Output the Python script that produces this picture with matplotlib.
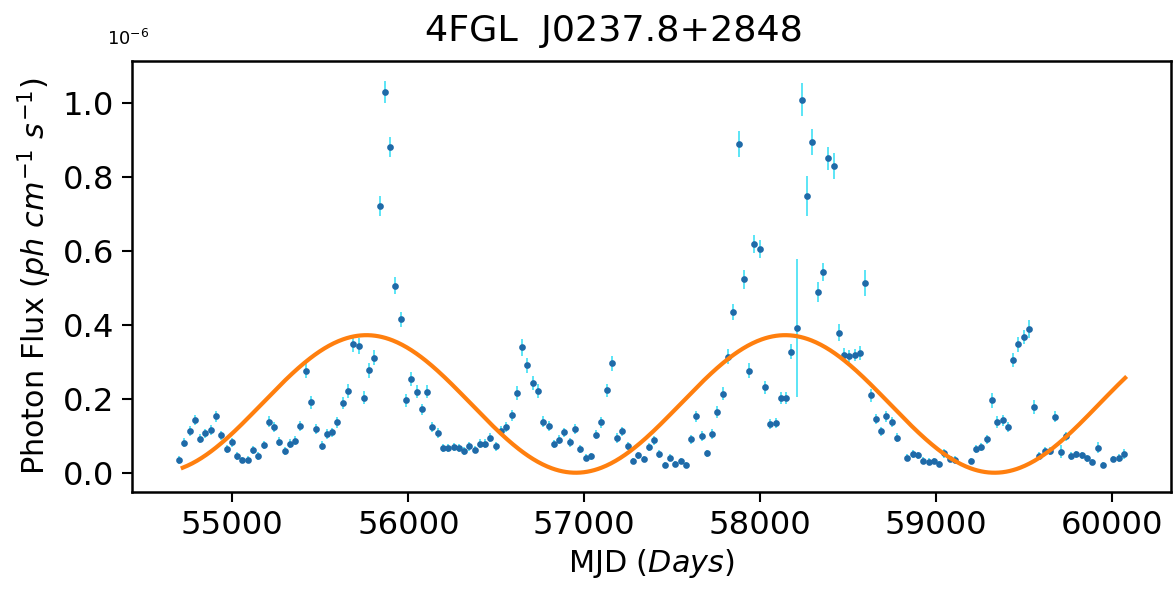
import numpy as np
import matplotlib.pyplot as plt

# 30-day binned light curve (flux in units of 1e-6 ph cm^-1 s^-1)
t_start = 54697
bin_days = 30
flux = [0.034, 0.081, 0.113, 0.142, 0.092, 0.107, 0.115, 0.153, 0.101, 0.063,
        0.082, 0.045, 0.034, 0.035, 0.061, 0.045, 0.075, 0.138, 0.124, 0.084,
        0.059, 0.079, 0.086, 0.127, 0.276, 0.190, 0.119, 0.073, 0.105, 0.109,
        0.137, 0.189, 0.221, 0.349, 0.343, 0.203, 0.277, 0.311, 0.721, 1.029,
        0.882, 0.505, 0.415, 0.196, 0.254, 0.219, 0.171, 0.219, 0.124, 0.108,
        0.068, 0.068, 0.070, 0.066, 0.059, 0.071, 0.062, 0.079, 0.079, 0.095,
        0.071, 0.114, 0.123, 0.155, 0.216, 0.339, 0.291, 0.242, 0.221, 0.138,
        0.127, 0.078, 0.089, 0.109, 0.082, 0.118, 0.063, 0.041, 0.044, 0.103,
        0.137, 0.223, 0.296, 0.094, 0.112, 0.073, 0.032, 0.047, 0.037, 0.069,
        0.088, 0.051, 0.021, 0.041, 0.023, 0.032, 0.020, 0.091, 0.153, 0.100,
        0.052, 0.104, 0.164, 0.214, 0.314, 0.435, 0.890, 0.523, 0.276, 0.618,
        0.605, 0.231, 0.132, 0.134, 0.203, 0.203, 0.327, 0.392, 1.009, 0.748,
        0.895, 0.489, 0.543, 0.850, 0.830, 0.379, 0.318, 0.316, 0.318, 0.324,
        0.514, 0.209, 0.145, 0.112, 0.153, 0.138, 0.095, np.nan, 0.041, 0.050,
        0.047, 0.033, 0.030, 0.032, 0.023, 0.052, 0.037, 0.035, np.nan, np.nan,
        0.032, 0.063, 0.069, 0.090, 0.196, 0.137, 0.142, 0.124, 0.305, 0.347,
        0.367, 0.388, 0.178, 0.045, 0.059, 0.058, 0.152, 0.057, 0.098, 0.045,
        0.050, 0.047, 0.039, 0.029, 0.068, 0.020, np.nan, 0.037, 0.040, 0.051]
flux_err = [0.010, 0.012, 0.013, 0.014, 0.012, 0.012, 0.013, 0.015, 0.012, 0.011,
            0.012, 0.010, 0.009, 0.009, 0.011, 0.010, 0.012, 0.015, 0.014, 0.012,
            0.011, 0.012, 0.012, 0.014, 0.020, 0.017, 0.014, 0.012, 0.013, 0.013,
            0.015, 0.017, 0.018, 0.022, 0.022, 0.017, 0.020, 0.021, 0.028, 0.030,
            0.027, 0.023, 0.021, 0.017, 0.019, 0.018, 0.016, 0.018, 0.014, 0.013,
            0.011, 0.011, 0.011, 0.011, 0.010, 0.011, 0.010, 0.012, 0.012, 0.013,
            0.011, 0.013, 0.014, 0.015, 0.018, 0.022, 0.020, 0.019, 0.018, 0.015,
            0.014, 0.011, 0.012, 0.013, 0.012, 0.013, 0.011, 0.009, 0.009, 0.013,
            0.015, 0.018, 0.020, 0.013, 0.013, 0.011, 0.009, 0.010, 0.009, 0.011,
            0.012, 0.010, 0.008, 0.010, 0.008, 0.009, 0.008, 0.012, 0.015, 0.013,
            0.010, 0.013, 0.016, 0.018, 0.020, 0.022, 0.035, 0.025, 0.020, 0.024,
            0.025, 0.018, 0.014, 0.014, 0.016, 0.016, 0.020, 0.186, 0.045, 0.055,
            0.035, 0.027, 0.025, 0.030, 0.035, 0.022, 0.018, 0.017, 0.017, 0.018,
            0.035, 0.017, 0.014, 0.013, 0.015, 0.014, 0.012, np.nan, 0.010, 0.011,
            0.010, 0.009, 0.009, 0.009, 0.008, 0.011, 0.009, 0.009, np.nan, np.nan,
            0.009, 0.011, 0.011, 0.012, 0.020, 0.016, 0.015, 0.014, 0.018, 0.020,
            0.020, 0.025, 0.018, 0.010, 0.011, 0.011, 0.016, 0.018, 0.013, 0.010,
            0.010, 0.010, 0.009, 0.009, 0.016, 0.008, np.nan, 0.009, 0.010, 0.014]

# sinusoidal model parameters
sin_mean = 0.186
sin_amp = 0.186
sin_period = 2380.0
sin_tpeak = 55762.0
model_range = (54718, 60074)

mjd = t_start + bin_days * np.arange(len(flux))
t_model = np.linspace(model_range[0], model_range[1], 800)
model = sin_mean + sin_amp * np.cos(2 * np.pi * (t_model - sin_tpeak) / sin_period)

fig = plt.figure(figsize=(1174 / 150, 592 / 150), dpi=150)
ax = fig.add_axes([0.1122, 0.169, 0.8853, 0.728])

ax.errorbar(mjd, flux, yerr=flux_err, fmt='o', markersize=2.2, color='#1f6aa8',
            ecolor='#3fe0f5', elinewidth=0.8, capsize=0, zorder=2)
ax.plot(t_model, model, color='#ff7f0e', linewidth=2.0, zorder=3)

ax.set_xlim(54428, 60335)
ax.set_ylim(-0.052, 1.1135)
ax.set_yticks([0.0, 0.2, 0.4, 0.6, 0.8, 1.0])
ax.set_xticks([55000, 56000, 57000, 58000, 59000, 60000])

for s in ax.spines.values():
    s.set_linewidth(1.2)
ax.tick_params(labelsize=15.5, length=5, width=1.0)

ax.set_xlabel(r'MJD ($Days$)', fontsize=14.5, labelpad=3)
ax.set_ylabel(r'Photon Flux ($ph\ cm^{-1}\ s^{-1}$)', fontsize=14.5, labelpad=4)
ax.text(0.464, 1.03, '4FGL  J0237.8+2848', transform=ax.transAxes,
        ha='center', va='bottom', fontsize=17.5)
fig.text(0.109, 0.935, r'10$^{-6}$', ha='center', va='center', fontsize=8.5)

fig.savefig('out.png', dpi=150)
